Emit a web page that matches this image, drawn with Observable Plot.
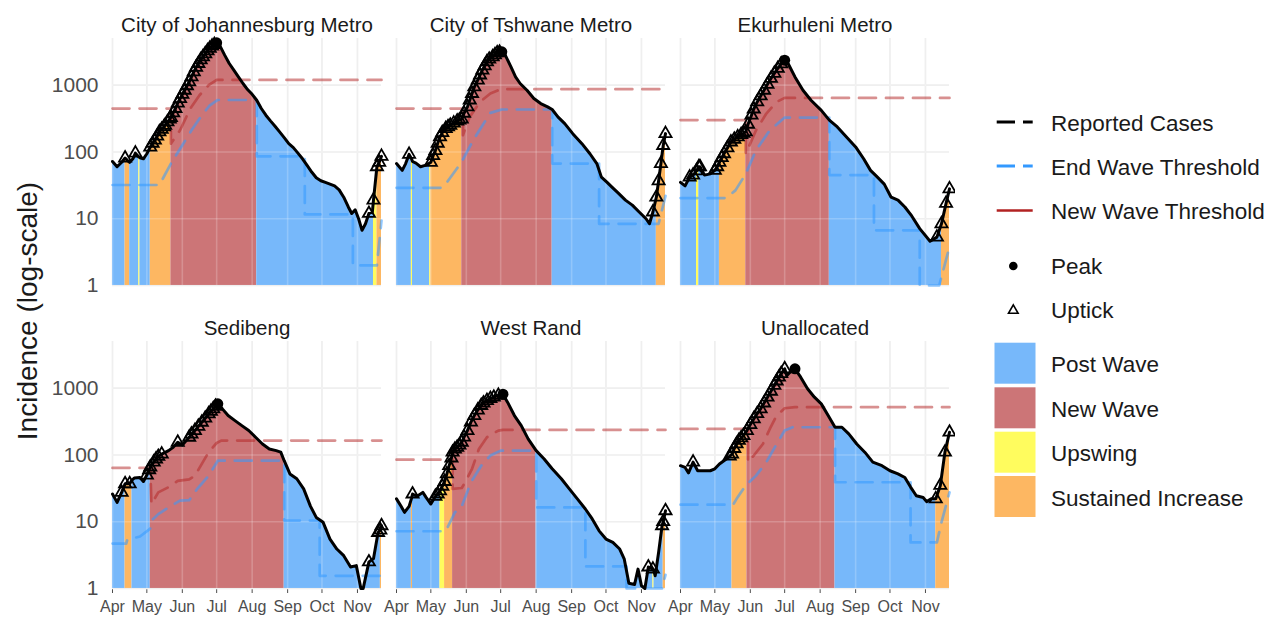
<!DOCTYPE html>
<html><head><meta charset="utf-8">
<script src="https://cdn.jsdelivr.net/npm/d3@7"></script>
<script src="https://cdn.jsdelivr.net/npm/@observablehq/plot@0.6"></script>
<style>
body{margin:0;background:#fff;font-family:"Liberation Sans",Arial,sans-serif;}
#wrap{position:relative;width:1269px;height:619px;overflow:hidden;background:#fff;}
#chart{position:absolute;left:0;top:0;}
#ytitle{position:absolute;left:28px;top:311px;transform:translate(-50%,-50%) rotate(-90deg);font-size:28px;color:#1a1a1a;white-space:nowrap;}
#legend{position:absolute;left:980px;top:0;}
g[aria-label="y-axis tick label"]{font-size:21px;fill:#4d4d4d;}
g[aria-label="x-axis tick label"]{font-size:16px;fill:#4d4d4d;}
g[aria-label="x-axis tick"]{stroke:#dcdcdc;}
</style></head>
<body>
<div id="wrap"><div id="chart"></div><div id="ytitle">Incidence (log-scale)</div><svg id="legend" width="289" height="619"></svg></div>
<script>
// ---------- data ----------
const regions = ["City of Johannesburg Metro","City of Tshwane Metro","Ekurhuleni Metro","Sedibeng","West Rand","Unallocated"];
const monthTicks = ["04-01","05-01","06-01","07-01","08-01","09-01","10-01","11-01"];
const yTicks = [1,10,100,1000];
const stateNames = ["Post Wave","New Wave","Upswing","Sustained Increase"];
const stateColors = ["#77b8fa","#cc7577","#fffc5e","#fdb762"];

// City of Johannesburg Metro
const jhbCases = [["04-01",72],["04-05",60],["04-09",70],["04-12",81],["04-14",75],["04-16",70],["04-19",80],["04-21",96],["04-24",84],["04-25",82],["04-28",79],["05-01",94],["05-04",118],["05-06",135],["05-08",150],["05-10",172],["05-12",200],["05-14",218],["05-16",238],["05-17",250],["05-19",282],["05-21",310],["05-22",328],["05-24",385],["05-26",447],["05-28",540],["05-30",630],["06-01",730],["06-03",840],["06-05",980],["06-07",1120],["06-09",1330],["06-11",1580],["06-13",1850],["06-15",2110],["06-17",2400],["06-19",2660],["06-21",2950],["06-23",3270],["06-25",3560],["06-27",3840],["06-29",4050],["07-01",4300],["07-04",3840],["07-08",2820],["07-12",2110],["07-16",1680],["07-20",1330],["07-24",1060],["07-28",860],["08-01",730],["08-05",595],["08-09",447],["08-13",355],["08-17",292],["08-21",243],["08-25",200],["08-29",164],["09-02",133],["09-06",116],["09-10",96],["09-14",79],["09-18",63],["09-22",50],["09-26",41],["09-30",37],["10-04",35],["10-08",33],["10-12",31],["10-16",27],["10-20",21],["10-24",15],["10-27",12],["10-30",13.6],["11-02",10],["11-05",6.7],["11-08",8.4],["11-11",12],["11-14",12.6],["11-15",19],["11-18",60],["11-20",70],["11-22",86]];
const jhbStates = [["04-01","04-12","Post Wave"],["04-12","04-16","Sustained Increase"],["04-16","04-24","Post Wave"],["04-24","04-25","Upswing"],["04-25","05-04","Post Wave"],["05-04","05-22","Sustained Increase"],["05-22","08-05","New Wave"],["08-05","11-15","Post Wave"],["11-15","11-18","Upswing"],["11-18","11-22","Sustained Increase"]];
const jhbUpticks = [["04-12","04-12"],["04-21","04-21"],["05-04","06-29"],["11-11","11-11"],["11-15","11-22"]];
const jhbPeaks = ["07-01"];
const jhbNewWave = [["04-01",447],["05-22",447],["05-22",133],["05-30",211],["06-08",447],["06-16",707],["06-24",1000],["07-01",1200],["11-22",1200]];
const jhbEndWave = [["04-01",32],["05-12",32],["05-22",67],["06-01",126],["06-09",211],["06-17",335],["06-25",500],["07-02",600],["08-05",600],["08-05",86],["09-16",86],["09-16",11.6],["10-28",11.6],["10-28",2],["11-18",2],["11-22",9.4]];

// City of Tshwane Metro
const tshCases = [["04-01",67],["04-06",53],["04-09",67],["04-12",92],["04-14",80],["04-15",72],["04-18",68],["04-22",60],["04-26",63],["04-30",68],["05-01",70],["05-03",88],["05-05",105],["05-07",135],["05-09",168],["05-11",195],["05-14",224],["05-16",238],["05-18",251],["05-21",270],["05-24",290],["05-26",300],["05-28",310],["05-30",380],["06-02",473],["06-04",600],["06-06",750],["06-08",940],["06-11",1190],["06-13",1420],["06-15",1680],["06-17",1950],["06-19",2240],["06-21",2450],["06-24",2660],["06-26",2850],["06-28",3050],["06-30",3120],["07-02",3160],["07-05",2820],["07-10",1880],["07-14",1330],["07-18",1060],["07-24",840],["07-30",630],["08-05",530],["08-11",473],["08-15",432],["08-20",335],["08-26",266],["09-02",188],["09-10",133],["09-17",94],["09-23",67],["09-27",42],["10-02",35],["10-06",30],["10-12",24],["10-18",19],["10-24",16],["10-30",12.6],["11-05",10],["11-08",8.4],["11-11",12.6],["11-14",21],["11-16",37],["11-18",67],["11-20",125],["11-22",188]];
const tshStates = [["04-01","04-14","Post Wave"],["04-14","04-15","Upswing"],["04-15","04-30","Post Wave"],["04-30","05-01","Upswing"],["05-01","05-28","Sustained Increase"],["05-28","08-15","New Wave"],["08-15","11-14","Post Wave"],["11-14","11-22","Sustained Increase"]];
const tshUpticks = [["04-12","04-12"],["05-01","06-30"],["11-11","11-22"]];
const tshPeaks = ["07-02"];
const tshNewWave = [["04-01",447],["05-29",447],["05-29",178],["06-04",335],["06-13",562],["06-22",750],["07-01",870],["11-22",870]];
const tshEndWave = [["04-01",29],["05-11",29],["05-15",35],["05-28",71],["06-07",150],["06-22",385],["07-02",432],["08-15",432],["08-15",67],["09-25",67],["09-25",8.4],["11-16",8.4],["11-22",22]];

// Ekurhuleni Metro
const ekuCases = [["04-01",35],["04-05",31],["04-09",42],["04-12",45],["04-15",52],["04-17",60],["04-18",60],["04-22",45],["04-27",47],["05-01",53],["05-03",60],["05-05",70],["05-07",82],["05-09",94],["05-12",115],["05-15",141],["05-18",155],["05-21",168],["05-24",182],["05-26",190],["05-28",200],["05-30",260],["06-02",355],["06-04",440],["06-07",562],["06-10",690],["06-13",840],["06-16",1030],["06-19",1260],["06-22",1500],["06-25",1780],["06-28",2080],["07-01",2370],["07-04",2110],["07-10",1330],["07-17",840],["07-24",595],["08-02",420],["08-09",300],["08-16",237],["08-24",168],["09-01",119],["09-08",79],["09-14",53],["09-20",42],["09-26",33],["10-02",21],["10-08",19],["10-14",15],["10-20",11],["10-27",7.1],["11-05",4.6],["11-11",5.3],["11-15",8.4],["11-19",17],["11-22",28]];
const ekuStates = [["04-01","04-15","Post Wave"],["04-15","04-17","Upswing"],["04-17","05-05","Post Wave"],["05-05","05-28","Sustained Increase"],["05-28","08-09","New Wave"],["08-09","11-15","Post Wave"],["11-15","11-22","Sustained Increase"]];
const ekuUpticks = [["04-09","04-18"],["05-01","06-28"],["11-11","11-22"]];
const ekuPeaks = ["07-01"];
const ekuNewWave = [["04-01",300],["05-28",300],["05-28",94],["06-06",211],["06-15",376],["06-24",562],["07-01",645],["11-22",645]];
const ekuEndWave = [["04-01",20.4],["05-11",20.4],["05-19",26.6],["05-28",47],["06-06",106],["06-18",211],["07-01",327],["08-09",327],["08-09",45],["09-17",45],["09-17",6.7],["10-27",6.7],["10-27",1],["11-13",1],["11-22",3.8]];

// Sedibeng
const sedCases = [["04-01",26],["04-05",19.5],["04-09",27.5],["04-12",37],["04-16",37],["04-18",42],["04-20",45],["04-25",46],["04-28",40],["05-01",50],["05-03",60],["05-04",66],["05-07",78],["05-09",87],["05-11",95],["05-14",103],["05-20",116],["05-24",130],["05-28",155],["06-01",141],["06-07",184],["06-09",205],["06-12",232],["06-15",268],["06-18",309],["06-21",355],["06-24",412],["06-26",450],["06-28",490],["06-30",535],["07-02",582],["07-06",490],["07-11",389],["07-17",327],["07-23",275],["07-29",232],["08-04",184],["08-10",146],["08-16",123],["08-22",116],["08-26",110],["08-29",82],["09-03",52],["09-09",44],["09-15",31],["09-21",17],["09-26",11.6],["10-02",9.8],["10-08",5.5],["10-14",3.9],["10-20",3.1],["10-26",2.1],["10-31",2.2],["11-04",1],["11-06",1],["11-11",2.5],["11-15",2.8],["11-19",6.9],["11-21",7.5],["11-22",8.7]];
const sedStates = [["04-01","04-12","Post Wave"],["04-12","04-18","Sustained Increase"],["04-18","05-04","Post Wave"],["05-04","08-29","New Wave"],["08-29","11-21","Post Wave"],["11-21","11-22","Sustained Increase"]];
const sedUpticks = [["04-09","04-16"],["05-01","05-14"],["05-28","05-28"],["06-07","06-30"],["11-11","11-11"],["11-19","11-22"]];
const sedPeaks = ["07-02"];
const sedNewWave = [["04-01",64],["05-04",64],["05-05",18.4],["05-11",27.5],["05-20",33],["05-28",41],["06-07",43],["06-12",49],["06-24",110],["07-01",151],["07-05",164],["11-22",164]];
const sedEndWave = [["04-01",4.7],["04-13",4.7],["04-14",5.4],["04-25",6],["05-04",7.9],["05-05",10.4],["05-11",13],["05-20",16.4],["05-30",20.7],["06-07",21],["06-14",31],["06-24",49],["07-02",82],["08-29",82],["08-29",10.4],["09-29",10.4],["09-29",1.55],["11-22",1.55]];

// West Rand
const wrCases = [["04-01",22],["04-05",17],["04-08",13.8],["04-12",17],["04-14",22],["04-15",26],["04-19",24],["04-24",27.5],["04-27",23],["05-01",18.4],["05-05",24],["05-07",26],["05-09",29],["05-11",34],["05-13",40],["05-15",52],["05-17",69],["05-19",90],["05-20",110],["05-22",122],["05-24",130],["05-26",140],["05-28",155],["05-30",185],["06-02",232],["06-05",310],["06-08",389],["06-11",470],["06-14",550],["06-16",600],["06-19",653],["06-22",700],["06-25",733],["06-29",780],["07-03",813],["07-07",617],["07-13",389],["07-19",275],["07-25",174],["08-01",116],["08-08",87],["08-15",62],["08-23",44],["08-30",31],["09-06",22],["09-13",15.5],["09-19",11],["09-25",7.3],["10-01",5.5],["10-07",4.9],["10-13",3.9],["10-17",2.75],["10-21",1.2],["10-26",1.15],["10-29",1.95],["11-01",1.1],["11-04",1],["11-07",2.1],["11-11",1.95],["11-12",1.8],["11-13",1.55],["11-16",3.5],["11-19",8.7],["11-20",10],["11-22",14.6]];
const wrStates = [["04-01","04-14","Post Wave"],["04-14","04-15","Sustained Increase"],["04-15","05-09","Post Wave"],["05-09","05-13","Upswing"],["05-13","05-20","Sustained Increase"],["05-20","08-01","New Wave"],["08-01","11-11","Post Wave"],["11-11","11-12","Upswing"],["11-12","11-20","Post Wave"],["11-20","11-22","Sustained Increase"]];
const wrUpticks = [["04-15","04-15"],["05-05","06-29"],["11-07","11-11"],["11-19","11-22"]];
const wrPeaks = ["07-03"];
const wrNewWave = [["04-01",85],["05-20",85],["05-20",31],["05-28",32],["05-31",39],["06-06",62],["06-12",123],["06-19",184],["06-29",232],["07-03",237],["11-22",237]];
const wrEndWave = [["04-01",7.2],["05-14",7.2],["05-22",13.8],["05-28",17],["06-05",39],["06-14",69],["06-22",98],["07-01",116],["08-01",116],["08-01",16.4],["09-13",16.4],["09-13",2.14],["10-19",2.14],["10-19",1],["11-19",1],["11-22",1.6]];

// Unallocated
const unaCases = [["04-01",69],["04-05",65],["04-08",54],["04-12",78],["04-16",58],["04-21",58],["04-27",58],["05-01",62],["05-05",73],["05-11",87],["05-14",96],["05-16",103],["05-18",125],["05-20",146],["05-22",165],["05-24",180],["05-26",195],["05-29",232],["06-01",285],["06-04",347],["06-07",415],["06-10",490],["06-13",600],["06-16",733],["06-19",900],["06-22",1100],["06-24",1280],["06-26",1460],["06-28",1650],["07-01",1950],["07-03",1550],["07-07",1840],["07-10",1950],["07-15",1460],["07-21",980],["07-27",733],["08-02",582],["08-08",389],["08-14",260],["08-20",260],["08-26",207],["09-02",146],["09-09",110],["09-16",78],["09-24",69],["10-01",58],["10-08",52],["10-14",46],["10-19",33],["10-24",24.5],["10-30",23],["11-02",20],["11-06",22],["11-10",22],["11-14",35],["11-18",110],["11-22",219]];
const unaStates = [["04-01","05-16","Post Wave"],["05-16","05-29","Sustained Increase"],["05-29","08-14","New Wave"],["08-14","11-10","Post Wave"],["11-10","11-22","Sustained Increase"]];
const unaUpticks = [["04-12","04-12"],["05-14","07-01"],["11-08","11-22"]];
const unaPeaks = ["07-10"];
const unaNewWave = [["04-01",245],["05-30",245],["05-30",78],["06-04",98],["06-12",146],["06-18",245],["06-24",389],["07-01",500],["07-10",519],["11-22",519]];
const unaEndWave = [["04-01",18],["05-17",18],["05-20",22],["05-28",35],["06-06",49],["06-15",78],["06-24",146],["07-01",232],["07-08",260],["08-14",260],["08-14",39],["10-19",39],["10-19",4.9],["11-11",4.9],["11-15",9.8],["11-22",27.5]];

// ---------- build tables ----------
const parse = s => new Date(`2020-${s}T00:00:00Z`);
const panels = [
  [jhbCases, jhbStates, jhbUpticks, jhbPeaks, jhbNewWave, jhbEndWave],
  [tshCases, tshStates, tshUpticks, tshPeaks, tshNewWave, tshEndWave],
  [ekuCases, ekuStates, ekuUpticks, ekuPeaks, ekuNewWave, ekuEndWave],
  [sedCases, sedStates, sedUpticks, sedPeaks, sedNewWave, sedEndWave],
  [wrCases, wrStates, wrUpticks, wrPeaks, wrNewWave, wrEndWave],
  [unaCases, unaStates, unaUpticks, unaPeaks, unaNewWave, unaEndWave]
];
const lineRows=[], areaRows=[], tickRows=[], peakRows=[], nwRows=[], ewRows=[], titleRows=[];
panels.forEach(([cases, states, upticks, peaks, nw, ew], i) => {
  const col = i % 3, row = Math.floor(i / 3);
  titleRows.push({name: regions[i], col, row});
  const pts = cases.map(([d, v]) => ({date: parse(d), value: v, col, row}));
  lineRows.push(...pts);
  states.forEach(([s, e, st], k) => {
    const a = parse(s), b = parse(e);
    pts.filter(q => q.date >= a && q.date <= b).forEach(q => areaRows.push({...q, state: st, seg: `${i}-${k}`}));
  });
  upticks.forEach(([s, e]) => {
    const a = parse(s), b = parse(e);
    pts.filter(q => q.date >= a && q.date <= b).forEach(q => tickRows.push(q));
  });
  peaks.forEach(d => { const t = +parse(d); pts.filter(q => +q.date === t).forEach(q => peakRows.push(q)); });
  nw.forEach(([d, v]) => nwRows.push({date: parse(d), value: v, col, row}));
  ew.forEach(([d, v]) => ewRows.push({date: parse(d), value: v, col, row}));
});
const mTicks = monthTicks.map(parse);

const chart = Plot.plot({
  width: 955, height: 619,
  marginLeft: 111, marginRight: 5, marginTop: 38, marginBottom: 30,
  style: {fontFamily: "'Liberation Sans', Arial, sans-serif", fontSize: "16px", background: "transparent", color: "#4d4d4d"},
  fx: {domain: [0, 1, 2], paddingInner: 0.0545, paddingOuter: 0, axis: null},
  fy: {domain: [0, 1], paddingInner: 0.1845, paddingOuter: 0, axis: null},
  x: {type: "utc", domain: [parse("04-01"), parse("11-22")], ticks: mTicks, tickFormat: d3.utcFormat("%b"), tickSize: 5, tickPadding: 7, label: null},
  y: {type: "log", domain: [1, 5000], ticks: yTicks, tickFormat: d => String(d), tickSize: 0, tickPadding: 14, label: null},
  color: {domain: stateNames, range: stateColors},
  marks: [
    Plot.ruleX(mTicks, {stroke: "#ebebeb", strokeWidth: 1.6}),
    Plot.ruleY(yTicks, {stroke: "#ebebeb", strokeWidth: 1.6}),
    Plot.areaY(areaRows, {x: "date", y1: () => 1, y2: "value", z: "seg", fill: "state", fx: "col", fy: "row", curve: "linear"}),
    Plot.ruleX(mTicks, {stroke: "white", strokeOpacity: 0.2, strokeWidth: 1.6}),
    Plot.ruleY(yTicks, {stroke: "white", strokeOpacity: 0.2, strokeWidth: 1.6}),
    Plot.line(ewRows, {x: "date", y: "value", fx: "col", fy: "row", stroke: "#3399ff", strokeOpacity: 0.55, strokeWidth: 2.7, strokeDasharray: "17,10"}),
    Plot.line(nwRows, {x: "date", y: "value", fx: "col", fy: "row", stroke: "#b22222", strokeOpacity: 0.5, strokeWidth: 2.7, strokeDasharray: "17,10"}),
    Plot.line(lineRows, {x: "date", y: "value", fx: "col", fy: "row", stroke: "black", strokeWidth: 3}),
    Plot.dot(tickRows, {x: "date", y: "value", fx: "col", fy: "row", symbol: "triangle", r: 4.5, stroke: "black", fill: "none", strokeWidth: 1.8}),
    Plot.dot(peakRows, {x: "date", y: "value", fx: "col", fy: "row", r: 5.5, fill: "black"}),
    Plot.text(titleRows, {fx: "col", fy: "row", text: "name", frameAnchor: "top", dy: -21, fontSize: 20.5, fill: "#1a1a1a"})
  ]
});
document.getElementById("chart").appendChild(chart);

// ---------- legend ----------
const lg = d3.select("#legend");
const ox = 980;
const seg = (x1, x2, y, c, w) => lg.append("line").attr("x1", x1 - ox).attr("x2", x2 - ox).attr("y1", y).attr("y2", y).attr("stroke", c).attr("stroke-width", w);
seg(996.7, 1015, 122, "black", 3); seg(1023, 1032.7, 122, "black", 3);
seg(996.7, 1015, 166, "#3399ff", 3); seg(1023, 1032.7, 166, "#3399ff", 3);
seg(996.7, 1032.7, 210.5, "#b22222", 2.7);
lg.append("circle").attr("cx", 1013.3 - ox).attr("cy", 266).attr("r", 4.3).attr("fill", "black");
lg.append("path").attr("d", d3.symbol(d3.symbolTriangle, 40)()).attr("transform", `translate(${1013.3 - ox},${310.5})`).attr("fill", "none").attr("stroke", "black").attr("stroke-width", 1.6);
const sqY = [342.7, 387.3, 431.7, 476];
stateNames.forEach((s, i) => lg.append("rect").attr("x", 994.5 - ox).attr("y", sqY[i]).attr("width", 41).attr("height", 41).attr("fill", stateColors[i]));
const labels = [["Reported Cases",123],["End Wave Threshold",167],["New Wave Threshold",211.5],["Peak",266],["Uptick",310],["Post Wave",364.5],["New Wave",409],["Upswing",453.5],["Sustained Increase",498]];
labels.forEach(([t, y]) => lg.append("text").attr("x", 1051 - ox).attr("y", y).attr("dy", "0.35em").attr("font-size", "22.5px").attr("fill", "#1a1a1a").attr("font-family", "'Liberation Sans', Arial, sans-serif").text(t));
</script>
</body></html>
